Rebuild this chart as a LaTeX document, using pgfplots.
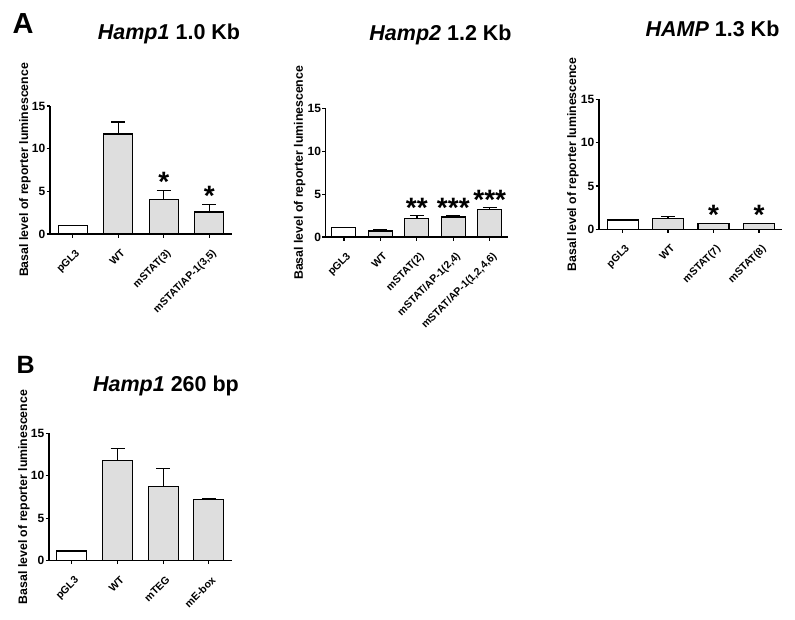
\documentclass[border=0pt]{standalone}
\usepackage{fontspec}
\setmainfont{Liberation Sans}
\usepackage{pgfplots}
\pgfplotsset{compat=1.18}

\definecolor{barfill}{RGB}{222,222,222}

\pgfplotsset{
  panel/.style={
    scale only axis,
    anchor=south west,
    axis lines=left,
    axis line style={line width=1.3pt,-},
    ymin=0, ymax=15,
    ytick={0,5,10,15},
    tick align=outside,
    major tick length=3.5pt,
    tick style={line width=1.2pt,black},
    /pgf/number format/assume math mode=true,
    yticklabel style={font=\fontsize{12}{12}\selectfont\bfseries,inner sep=1pt},
    xticklabel style={font=\fontsize{10.5}{10.5}\selectfont\bfseries,xshift=2pt,yshift=-11pt,rotate=45,anchor=north east,inner sep=0pt},
    ylabel={Basal level of reporter luminescence},
    ylabel style={font=\fontsize{12.3}{12.3}\selectfont\bfseries,at={(axis description cs:-0.137,0.5)},anchor=center},
    clip=false,
  },
  bars/.style={ybar,draw=black,line width=1.1pt,bar shift=0pt,
    error bars/y dir=plus,error bars/y explicit,
    error bars/error bar style={line width=1.3pt,black},
    error bars/error mark options={rotate=90,line width=1.3pt,mark size=7pt,black}},
}
\tikzset{
  star/.style={font=\fontsize{28}{28}\selectfont\bfseries,anchor=base,inner sep=0pt,yshift=-1.5pt},
  ttl/.style={font=\fontsize{21.5}{21.5}\selectfont\bfseries,anchor=base,inner sep=0pt},
  letter/.style={font=\fontsize{29}{29}\selectfont\bfseries,anchor=base west,inner sep=0pt},
}

\begin{document}
\begin{tikzpicture}
\useasboundingbox (0,0) rectangle (795pt,-619pt);

% panel letters and titles
\node[letter] at (12.5pt,-33.3pt) {A};
\node[letter,font=\fontsize{25}{25}\selectfont\bfseries] at (16.5pt,-373.3pt) {B};
\node[ttl] at (169pt,-39pt) {\textit{Hamp1} 1.0 Kb};
\node[ttl] at (440.5pt,-40pt) {\textit{Hamp2} 1.2 Kb};
\node[ttl] at (712.5pt,-36.7pt) {\textit{HAMP} 1.3 Kb};
\node[ttl] at (166pt,-391.7pt) {\textit{Hamp1} 260 bp};

% Hamp1 1.0 Kb
\begin{axis}[panel,at={(50pt,-234pt)},width=182pt,height=128pt,
  xmin=-0.5,xmax=3.5,xtick={0,1,2,3},
  xticklabels={pGL3,WT,mSTAT(3),{mSTAT/AP-1(3,5)}}]
  \addplot[bars,fill=white,bar width=29pt] coordinates {(0,0.95)};
  \addplot[bars,fill=barfill,bar width=29pt] coordinates {
    (1,11.72) +- (0,1.42)
    (2,4.07) +- (0,1.05)
    (3,2.58) +- (0,0.9)
  };
  \node[star] at (axis cs:2,5.12) {*};
  \node[star] at (axis cs:3,3.48) {*};
\end{axis}

% Hamp2 1.2 Kb
\begin{axis}[panel,at={(325.7pt,-237pt)},width=182.3pt,height=128.3pt,
  xmin=-0.5,xmax=4.5,xtick={0,1,2,3,4},
  ylabel style={at={(axis description cs:-0.143,0.5)}},
  xticklabels={pGL3,WT,mSTAT(2),{mSTAT/AP-1(2,4)},{mSTAT/AP-1(1,2,4,6)}}]
  \addplot[bars,fill=white,bar width=24pt] coordinates {(0,1.1)};
  \addplot[bars,fill=barfill,bar width=24pt] coordinates {
    (1,0.7) +- (0,0.16)
    (2,2.15) +- (0,0.35)
    (3,2.34) +- (0,0.16)
    (4,3.24) +- (0,0.2)
  };
  \node[star] at (axis cs:2,2.5) {**};
  \node[star] at (axis cs:3,2.5) {***};
  \node[star] at (axis cs:4,3.44) {***};
\end{axis}

% HAMP 1.3 Kb
\begin{axis}[panel,at={(599pt,-229.3pt)},width=182.7pt,height=130pt,
  xmin=-0.52,xmax=3.5,xtick={0,1,2,3},
  ylabel style={at={(axis description cs:-0.142,0.5)}},
  xticklabels={pGL3,WT,mSTAT(7),mSTAT(8)}]
  \addplot[bars,fill=white,bar width=31pt] coordinates {(0,1.07)};
  \addplot[bars,fill=barfill,bar width=31pt] coordinates {
    (1,1.27) +- (0,0.2)
    (2,0.7) +- (0,0)
    (3,0.7) +- (0,0)
  };
  \node[star] at (axis cs:2,0.7) {*};
  \node[star] at (axis cs:3,0.7) {*};
\end{axis}

% Hamp1 260 bp
\begin{axis}[panel,at={(49pt,-560.7pt)},width=182.7pt,height=127.4pt,
  xmin=-0.5,xmax=3.5,xtick={0,1,2,3},
  xticklabels={pGL3,WT,mTEG,mE-box}]
  \addplot[bars,fill=white,bar width=30pt] coordinates {(0,1.14)};
  \addplot[bars,fill=barfill,bar width=30pt] coordinates {
    (1,11.78) +- (0,1.46)
    (2,8.72) +- (0,2.16)
    (3,7.23) +- (0,0.12)
  };
\end{axis}
\end{tikzpicture}
\end{document}
